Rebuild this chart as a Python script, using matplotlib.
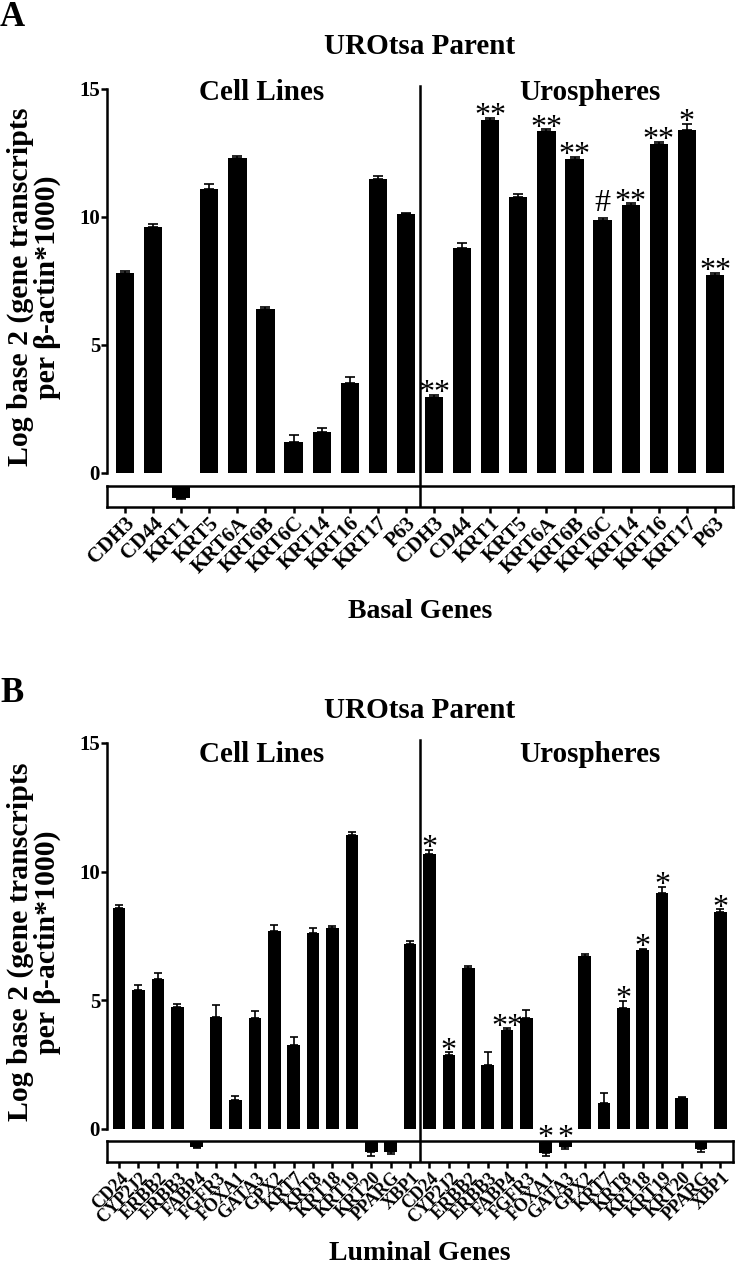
import numpy as np
import matplotlib
matplotlib.use("Agg")
import matplotlib.pyplot as plt
from matplotlib import transforms

plt.rcParams['font.family'] = ['Liberation Serif', 'DejaVu Serif']

# ---- data ----
basal_genes = ["CDH3", "CD44", "KRT1", "KRT5", "KRT6A", "KRT6B", "KRT6C",
               "KRT14", "KRT16", "KRT17", "P63"]
basal_cell = [7.8, 9.6, -0.86, 11.1, 12.3, 6.4, 1.2, 1.6, 3.5, 11.5, 10.1]
basal_cell_err = [0.1, 0.12, 0.08, 0.17, 0.08, 0.1, 0.3, 0.15, 0.25, 0.1, 0.05]
basal_uro = [2.97, 8.8, 13.8, 10.8, 13.35, 12.25, 9.9, 10.45, 12.85, 13.4, 7.73]
basal_uro_err = [0.08, 0.2, 0.08, 0.1, 0.08, 0.1, 0.08, 0.08, 0.08, 0.25, 0.1]
basal_marks = ["**", "", "**", "", "**", "**", "#", "**", "**", "*", "**"]

luminal_genes = ["CD24", "CYP2J2", "ERBB2", "ERBB3", "FABP4", "FGFR3", "FOXA1",
                 "GATA3", "GPX2", "KRT7", "KRT8", "KRT18", "KRT19", "KRT20",
                 "PPARG", "XBP1"]
luminal_cell = [8.57, 5.4, 5.83, 4.75, -0.43, 4.36, 1.12, 4.3, 7.68, 3.28,
                7.6, 7.8, 11.43, -0.8, -0.8, 7.2]
luminal_cell_err = [0.15, 0.2, 0.23, 0.1, 0.05, 0.45, 0.15, 0.3, 0.23, 0.28,
                    0.2, 0.1, 0.12, 0.27, 0.15, 0.1]
luminal_uro = [10.7, 2.86, 6.25, 2.47, 3.86, 4.32, -0.86, -0.43, 6.72, 1.0,
               4.71, 6.95, 9.19, 1.2, -0.57, 8.42]
luminal_uro_err = [0.15, 0.12, 0.08, 0.54, 0.05, 0.32, 0.2, 0.15, 0.08, 0.38,
                   0.27, 0.05, 0.23, 0.06, 0.2, 0.12]
luminal_marks = ["*", "*", "", "", "**", "", "*", "*", "", "", "*", "*", "*",
                 "", "", "*"]

W, H = 736, 1266
fig = plt.figure(figsize=(W / 100, H / 100), dpi=100)


def px_axes(left, top, right, bottom):
    return fig.add_axes([left / W, 1 - bottom / H, (right - left) / W, (bottom - top) / H])


def px_text(x, y, s, **kw):
    fig.text(x / W, 1 - y / H, s, **kw)


def draw_panel(genes, cell, cell_err, uro, uro_err, marks, main_px, low_px, xlim,
               letter, letter_y, title_y, sub_y, xlabel, xlabel_y, lab_size, capsize):
    n = len(genes)
    vals = np.array(cell + uro)
    errs = np.array(cell_err + uro_err)
    x = np.arange(2 * n)
    pos = np.where(vals > 0, vals, 0)
    neg = np.where(vals < 0, vals, 0)
    zero = np.zeros_like(vals)

    ax = px_axes(107, main_px[0], 733, main_px[1])
    low = px_axes(107, low_px[0], 733, low_px[1])

    # upper part (positive values)
    ax.bar(x, pos, width=0.65, color='black')
    up = vals > 0
    ax.errorbar(x[up], pos[up], yerr=[zero[up], errs[up]], fmt='none', ecolor='black',
                elinewidth=1.2, capsize=capsize, capthick=1.2)
    ax.set_xlim(*xlim)
    ax.set_ylim(0, 15)
    ax.set_yticks([0, 5, 10, 15])
    ax.set_xticks([])
    for s in ['top', 'right', 'bottom']:
        ax.spines[s].set_visible(False)
    ax.spines['left'].set_linewidth(1.8)
    ax.tick_params(axis='y', direction='out', length=4, width=1.8, labelsize=15, pad=1)
    for t in ax.get_yticklabels():
        t.set_fontweight('bold')

    # lower box (negative values)
    low.bar(x, neg, width=0.65, color='black')
    dn = vals < 0
    low.errorbar(x[dn], neg[dn], yerr=[errs[dn], zero[dn]], fmt='none', ecolor='black',
                 elinewidth=1.2, capsize=capsize, capthick=1.2)
    low.set_xlim(*xlim)
    low.set_ylim(-1.5, 0)
    low.set_yticks([])
    for s in low.spines.values():
        s.set_linewidth(1.8)
    low.set_xticks(x)
    low.set_xticklabels(genes + genes)
    low.tick_params(axis='x', direction='out', length=4, width=1.8, pad=2)
    for t in low.get_xticklabels():
        t.set_fontweight('bold')
        t.set_fontsize(lab_size)
        t.set_rotation(45)
        t.set_ha('right')
        t.set_va('center')
        t.set_rotation_mode('anchor')
        t.set_transform(t.get_transform() + transforms.ScaledTranslation(
            0.07, -0.05, fig.dpi_scale_trans))

    # separator between cell lines and urospheres
    sep = n - 0.5
    h_main = main_px[1] - main_px[0]
    ax.axvline(sep, ymin=-(low_px[0] - main_px[1]) / h_main,
               ymax=(main_px[1] - (main_px[0] - 3)) / h_main,
               color='black', lw=1.8, clip_on=False)
    low.axvline(sep, color='black', lw=1.8)

    # significance marks on urosphere bars
    for i, m in enumerate(marks):
        if not m:
            continue
        j = n + i
        if vals[j] > 0:
            y = vals[j] + errs[j] + (0.27 if m == '#' else -0.25)
        else:
            y = -0.65
        ax.text(j, y, m, ha='center', va='baseline', fontsize=23, clip_on=False)

    # labels
    px_text(0, letter_y, letter, fontsize=25, fontweight='bold', ha='left', va='center')
    px_text(420, title_y, "UROtsa Parent", fontsize=21, fontweight='bold', ha='center', va='center')
    px_text(262, sub_y, "Cell Lines", fontsize=21, fontweight='bold', ha='center', va='center')
    px_text(590, sub_y, "Urospheres", fontsize=21, fontweight='bold', ha='center', va='center')
    px_text(420, xlabel_y, xlabel, fontsize=20, fontweight='bold', ha='center', va='center')
    px_text(34, (main_px[0] + main_px[1]) / 2 + 6,
            "Log base 2 (gene transcripts\nper \u03b2-actin*1000)",
            fontsize=21.5, fontweight='bold', rotation=90, ha='center', va='center',
            multialignment='center', linespacing=1.0)


draw_panel(basal_genes, basal_cell, basal_cell_err, basal_uro, basal_uro_err, basal_marks,
           (89, 473), (486, 507), (-0.64, 21.64), "A", 17, 46, 93, "Basal Genes", 611,
           15, 3.6)
draw_panel(luminal_genes, luminal_cell, luminal_cell_err, luminal_uro, luminal_uro_err,
           luminal_marks, (743, 1129), (1141, 1162), (-0.62, 31.65), "B", 694, 710, 755,
           "Luminal Genes", 1253, 13, 2.9)

fig.savefig("out.png", dpi=100)
